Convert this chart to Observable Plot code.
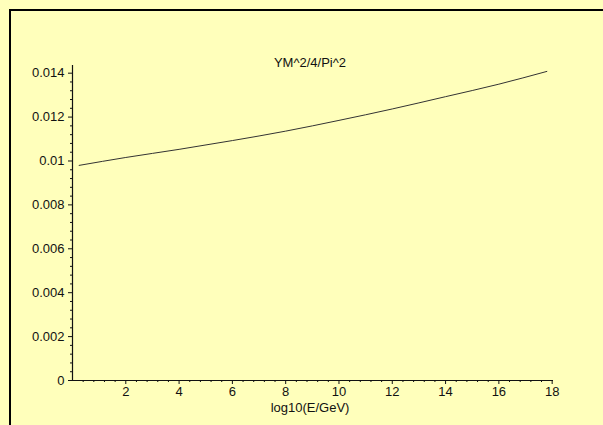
<!DOCTYPE html>
<html>
<head>
<meta charset="utf-8">
<script src="https://cdn.jsdelivr.net/npm/d3@7"></script>
<script src="https://cdn.jsdelivr.net/npm/@observablehq/plot@0.6"></script>
<style>
  html, body { margin: 0; padding: 0; background: #ffffbb; overflow: hidden; }
  #wrap { position: relative; width: 603px; height: 425px; }
  #border { position: absolute; left: 9px; top: 9px; width: 700px; height: 600px;
            border-top: 2px solid #000; border-left: 2px solid #000; box-sizing: border-box; }
  #chart { position: absolute; left: 0; top: 0; }
</style>
</head>
<body>
<div id="wrap"><div id="border"></div><div id="chart"></div></div>
<script>
// Data
const xVals = [0.25, 2, 4, 6, 8, 10, 12, 14, 16, 17.8];
const yVals = [0.00980, 0.01016, 0.01053, 0.01093, 0.01136, 0.01185, 0.01237, 0.01293, 0.01350, 0.01408];
const title = "YM^2/4/Pi^2";
const xLabel = "log10(E/GeV)";
const xTicks = [2, 4, 6, 8, 10, 12, 14, 16, 18];
const xTickLabels = ["2", "4", "6", "8", "10", "12", "14", "16", "18"];
const yTicks = [0, 0.002, 0.004, 0.006, 0.008, 0.01, 0.012, 0.014];
const yTickLabels = ["0", "0.002", "0.004", "0.006", "0.008", "0.01", "0.012", "0.014"];
const xMinor = d3.range(0, 18.01, 0.4).filter(v => Math.abs(v / 2 - Math.round(v / 2)) > 1e-6);
const yMinor = d3.range(0, 0.01435, 0.0004).filter(v => Math.abs(v / 0.002 - Math.round(v / 0.002)) > 1e-6);

const data = xVals.map((x, i) => ({x, y: yVals[i]}));
const xDom = [0, 18.05], yDom = [0, 0.01435];
const font = "Liberation Sans, Arial, sans-serif";

const plot = Plot.plot({
  width: 603, height: 425,
  marginLeft: 72, marginRight: 50, marginTop: 65, marginBottom: 45,
  style: {background: "transparent", fontFamily: font, fontSize: "13px", color: "#111"},
  x: {domain: xDom, axis: null},
  y: {domain: yDom, axis: null},
  marks: [
    Plot.ruleX([0], {y1: yDom[0], y2: yDom[1], stroke: "#111", strokeWidth: 1.2}),
    Plot.ruleY([0], {x1: xDom[0], x2: xDom[1], stroke: "#111", strokeWidth: 1.2}),
    Plot.axisY(yTicks, {anchor: "left", tickSize: 4, tickPadding: 4, fontSize: 13, label: null,
      tickFormat: (d) => yTickLabels[yTicks.indexOf(d)], stroke: "#111"}),
    Plot.axisY(yMinor, {anchor: "left", tickSize: 2, tickFormat: () => "", stroke: "#111", label: null}),
    Plot.axisX(xTicks, {anchor: "bottom", tickSize: 4, tickPadding: 2, fontSize: 13,
      tickFormat: (d) => xTickLabels[xTicks.indexOf(d)], stroke: "#111", label: null}),
    Plot.axisX(xMinor, {anchor: "bottom", tickSize: 2, tickFormat: () => "", stroke: "#111", label: null}),
    Plot.line(data, {x: "x", y: "y", curve: "monotone-x", stroke: "#333", strokeWidth: 1}),
    Plot.text([title], {frameAnchor: "top", dy: -8, dx: -3, fontSize: 13, fill: "#111"}),
    Plot.text([xLabel], {frameAnchor: "bottom", dy: 31, dx: -3, fontSize: 13, fill: "#111"})
  ]
});
document.getElementById("chart").appendChild(plot);
</script>
</body>
</html>
